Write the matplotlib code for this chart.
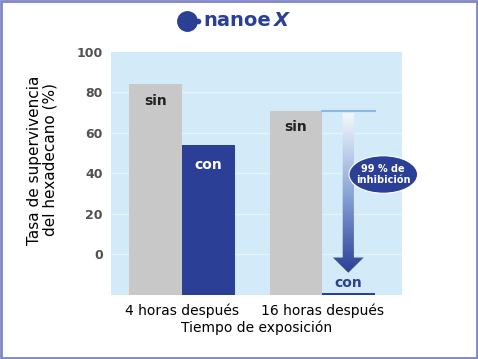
import numpy as np
import matplotlib
matplotlib.use('Agg')
import matplotlib.pyplot as plt
from matplotlib.patches import Polygon, Rectangle, Ellipse
from matplotlib.lines import Line2D
from matplotlib.colors import LinearSegmentedColormap

# datos
grupos = ['4 horas después', '16 horas después']
sin_vals = [84, 71]
con_vals = [54, -19]
base = -20
yticks = [0, 20, 40, 60, 80, 100]

GRIS = '#c8c8c8'
AZUL = '#2b3f96'
FONDO = '#d3ebf8'
REJILLA = '#e6f4fc'

plt.rcParams['font.family'] = ['DejaVu Sans']

fig = plt.figure(figsize=(4.78, 3.59), dpi=100)
ax = fig.add_axes([0.2322, 0.1783, 0.6088, 0.6769])
ax.set_facecolor(FONDO)

x = np.arange(len(grupos))
w = 0.375
sin_h = [v - base for v in sin_vals]
con_h = [v - base for v in con_vals]
ax.bar(x - w / 2, sin_h, w, bottom=base, color=GRIS, zorder=2)
ax.bar(x + w / 2, con_h, w, bottom=base, color=AZUL, zorder=2)

for yt in yticks[:-1]:
    ax.axhline(yt, color=REJILLA, lw=1.0, zorder=1)

ax.set_xlim(-0.507, 1.571)
ax.set_ylim(base, 100)
ax.set_yticks(yticks)
ax.set_yticklabels([str(t) for t in yticks], fontsize=9, fontweight='bold', color='#505050')
ax.set_xticks(x)
ax.set_xticklabels(grupos, fontsize=10)
ax.tick_params(length=0, pad=6)
ax.tick_params(axis='y', pad=6)
for s in ax.spines.values():
    s.set_visible(False)

ax.set_ylabel('Tasa de supervivencia\ndel hexadecano (%)', fontsize=11, linespacing=1.0)
ax.yaxis.set_label_coords(-0.185, 0.556)
ax.set_xlabel('Tiempo de exposición', fontsize=10, labelpad=2)

# etiquetas dentro de las barras
for i in range(len(grupos)):
    ax.text(x[i] - w / 2, sin_vals[i] - 8, 'sin', ha='center', va='center',
            fontsize=10, fontweight='bold', color='#222222', zorder=3)
ax.text(x[0] + w / 2, con_vals[0] - 10, 'con', ha='center', va='center',
        fontsize=10, fontweight='bold', color='white', zorder=3)
ax.text(x[1] + w / 2, con_vals[1] + 5, 'con', ha='center', va='center',
        fontsize=10, fontweight='bold', color=AZUL, zorder=3)

# flecha con degradado
cx = x[1] + w / 2
ax.plot([cx - w / 2, cx + w / 2], [sin_vals[1], sin_vals[1]], color='#8ab8e6', lw=1.5, zorder=3)
top = sin_vals[1] - 1
tip = con_vals[1] + 10
hl = 7.5
sw, hw = 0.04, 0.11
pts = [(cx - sw, top), (cx + sw, top), (cx + sw, tip + hl), (cx + hw, tip + hl),
       (cx, tip), (cx - hw, tip + hl), (cx - sw, tip + hl)]
poly = Polygon(pts, closed=True, fc='none', ec='none')
ax.add_patch(poly)
cmap = LinearSegmentedColormap.from_list('grad', ['#f4f8fd', '#8aa5d8', AZUL])
grad = np.linspace(0, 1, 256).reshape(-1, 1)
im = ax.imshow(grad, cmap=cmap, aspect='auto', origin='upper',
               extent=[cx - hw, cx + hw, tip, top], zorder=3)
im.set_clip_path(poly)

# óvalo "99 % de inhibición"
ex, ey = cx + 0.25, 39.5
ax.add_patch(Ellipse((ex, ey), 0.49, 18.5, fc=AZUL, ec='white', lw=0.8,
                     zorder=4, clip_on=False))
ax.text(ex, ey, '99 % de\ninhibición', ha='center', va='center',
        fontsize=7, fontweight='bold', color='white', linespacing=1.05, zorder=5)

# logo
fig.add_artist(Line2D([0.392], [0.942], marker='o', ms=14, color=AZUL,
                      transform=fig.transFigure))
fig.add_artist(Line2D([0.415], [0.942], marker='o', ms=3, color=AZUL,
                      transform=fig.transFigure))
fig.text(0.425, 0.942, 'nanoe', fontsize=14, fontweight='bold', color=AZUL,
         ha='left', va='center')
fig.text(0.574, 0.942, 'X', fontsize=14, fontweight='bold', style='italic',
         color=AZUL, ha='left', va='center')

# marco
fig.add_artist(Rectangle((0.002, 0.003), 0.995, 0.994, transform=fig.transFigure,
                         fill=False, ec='#7e86c8', lw=2))

fig.savefig('out.png', dpi=100)
